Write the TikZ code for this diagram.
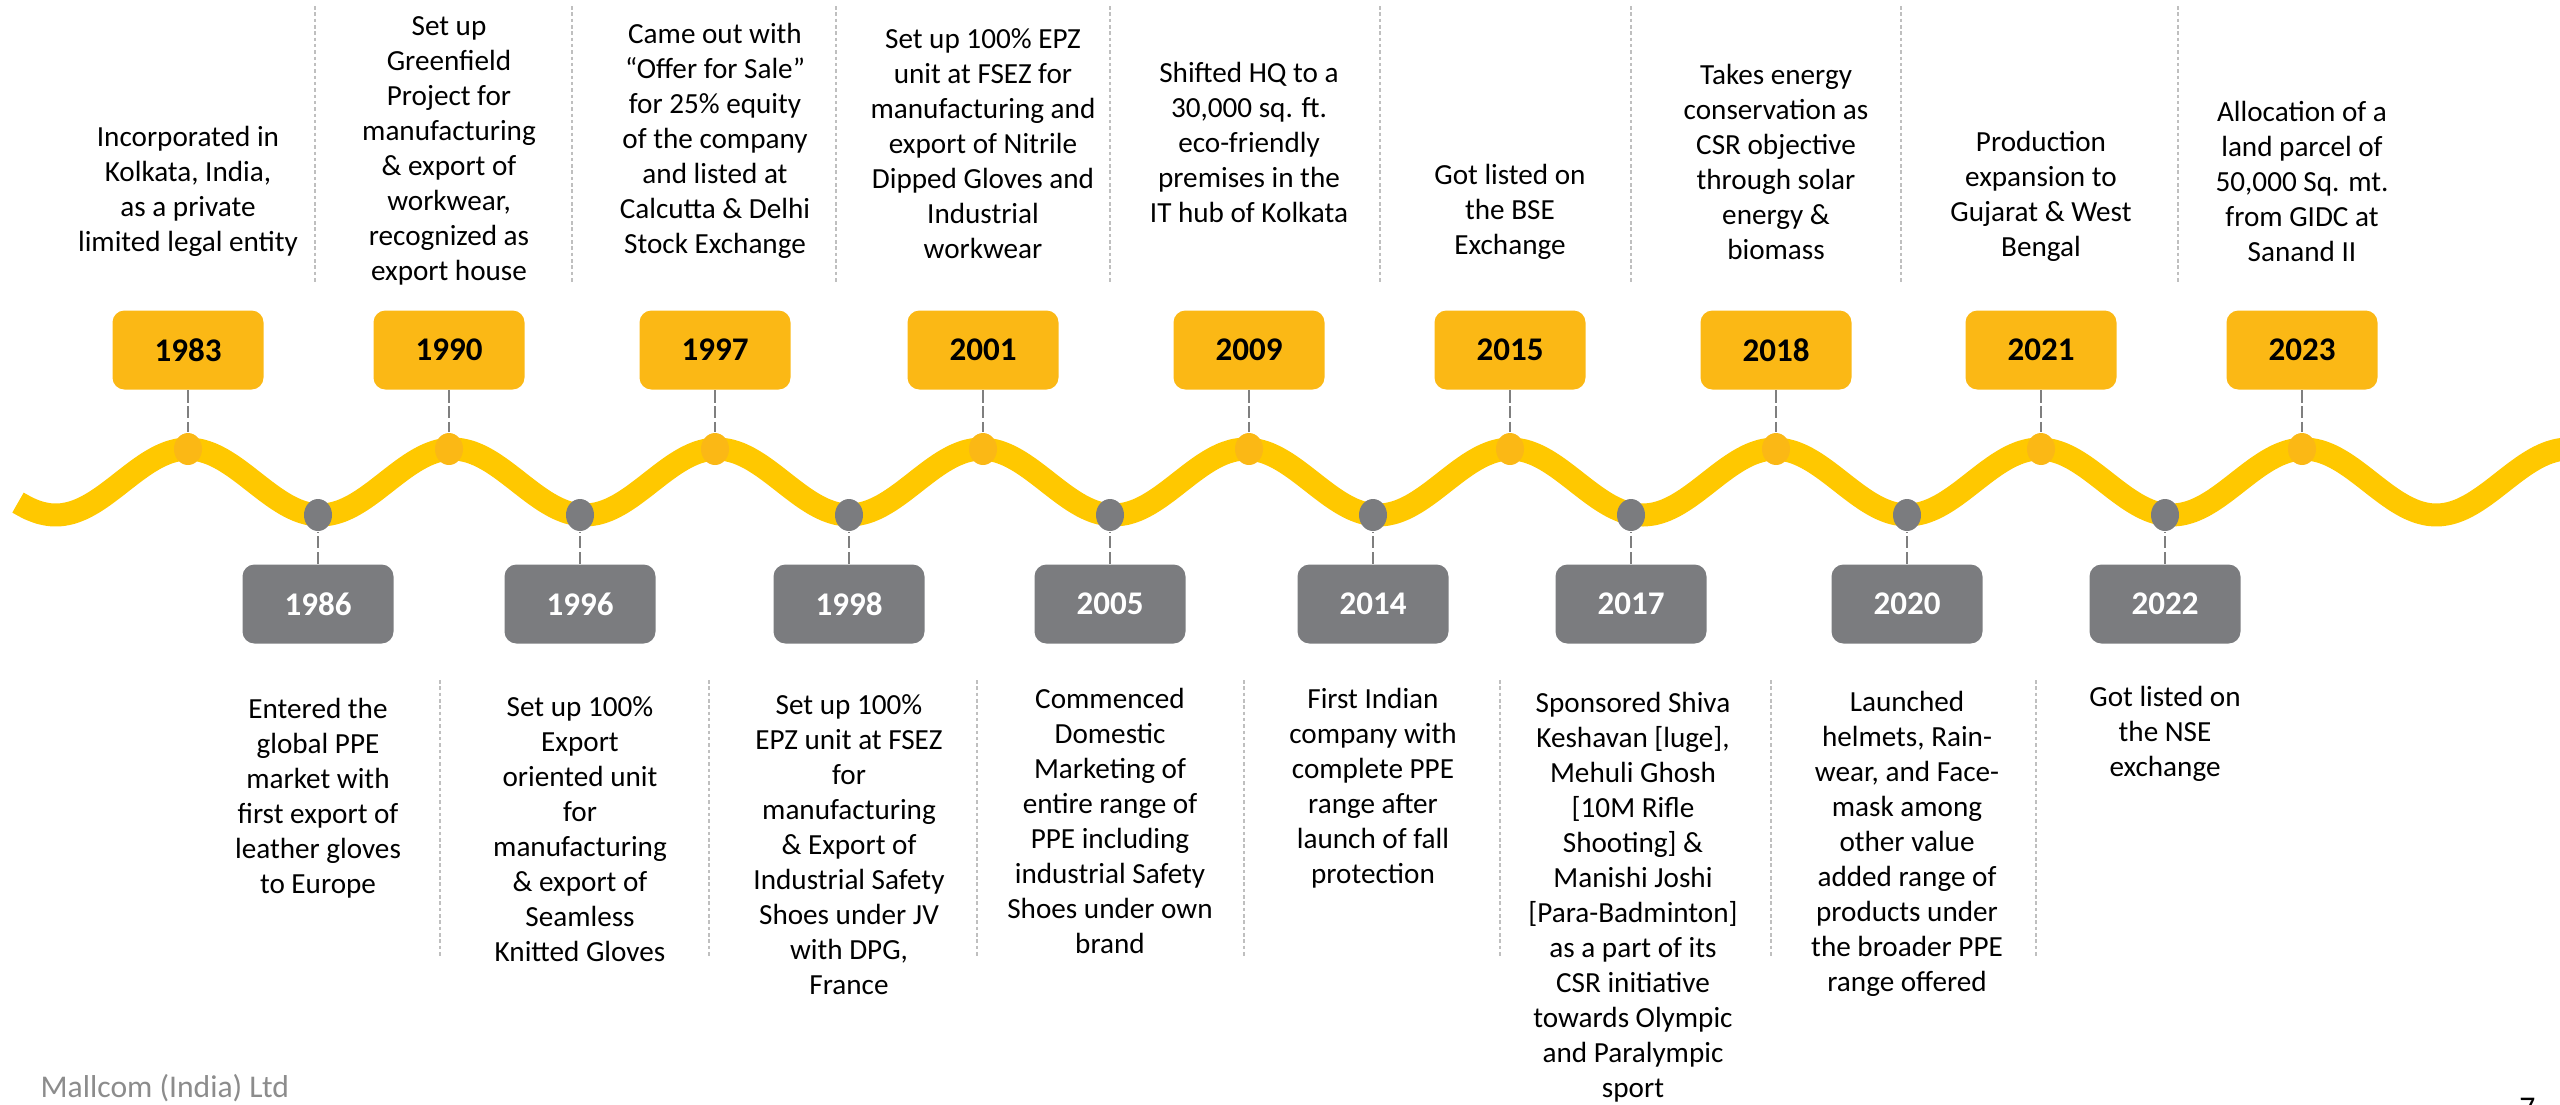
\documentclass[tikz,border=0pt]{standalone}
\usepackage{fontspec}
\setmainfont{Carlito}
\usetikzlibrary{shapes.geometric}

\definecolor{gold}{RGB}{251,184,21}
\definecolor{bandyellow}{RGB}{255,200,0}
\definecolor{slate}{RGB}{123,124,127}
\definecolor{linkgray}{RGB}{127,127,127}
\definecolor{divgray}{RGB}{191,191,191}
\definecolor{footgray}{RGB}{140,140,140}

\tikzset{
  yearup/.style={rectangle, rounded corners=3.4pt, fill=gold, minimum width=15.1mm, minimum height=7.9mm, inner sep=0pt, font=\fontsize{9.4}{10}\selectfont\bfseries},
  yeardown/.style={yearup, fill=slate, text=white},
  story/.style={align=center, inner sep=0pt, font=\fontsize{8.3}{9.96}\selectfont},
  knobup/.style={ellipse, fill=gold, minimum width=2.8mm, minimum height=3.2mm, inner sep=0pt},
  knobdown/.style={knobup, fill=slate},
  link/.style={draw=linkgray, line width=0.75pt, dash pattern=on 3.5pt off 1pt},
  divider/.style={draw=divgray, line width=0.35pt, dash pattern=on 1pt off 0.8pt}
}

\begin{document}
\begin{tikzpicture}[x=0.1mm, y=-0.1mm]
  \useasboundingbox (0,0) rectangle (2560,1104);
  \clip (0,0) rectangle (2560,1104);

  % separators
  \foreach \x in {315,572,836,1110,1380,1631,1901,2178}
    \draw[divider] (\x,6) -- (\x,284);
  \foreach \x in {440,709,977,1244,1500,1771,2036}
    \draw[divider] (\x,680) -- (\x,958);

  % wave (period 264.5)
  \draw[bandyellow, line width=2.3mm, domain=18:2590, samples=240, smooth, variable=\x] plot ({\x},{482-33*cos(1.36106*(\x-188))});

  % years above the wave
  \foreach \yr/\x in {1983/188,1990/449,1997/715,2001/983,2009/1249,2015/1510,2018/1776,2021/2041,2023/2302} {
    \node[knobup] (k\yr) at (\x,449) {};
    \node[yearup] (y\yr) at (\x,350) {\yr};
  }

  % years below the wave
  \foreach \yr/\x in {1986/318,1996/580,1998/849,2005/1110,2014/1373,2017/1631,2020/1907,2022/2165} {
    \node[knobdown] (k\yr) at (\x,515) {};
    \node[yeardown] (y\yr) at (\x,604) {\yr};
  }

  \foreach \yr in {1983,1990,1997,2001,2009,2015,2018,2021,2023,1986,1996,1998,2005,2014,2017,2020,2022}
    \draw[link] (y\yr) -- (k\yr);

  % texts above
  \node[story] (t1983) at (188,191) {Incorporated in\\Kolkata, India,\\as a private\\limited legal entity};
  \node[story] (t1990) at (449,151) {Set up\\Greenfield\\Project for\\manufacturing\\\& export of\\workwear,\\recognized as\\export house};
  \node[story] (t1997) at (715,141) {Came out with\\“Offer for Sale”\\for 25\% equity\\of the company\\and listed at\\Calcutta \& Delhi\\Stock Exchange};
  \node[story] (t2001) at (983,144) {Set up 100\% EPZ\\unit at FSEZ for\\manufacturing and\\export of Nitrile\\Dipped Gloves and\\Industrial\\workwear};
  \node[story] (t2009) at (1249,142) {Shifted HQ to a\\30,000 sq. ft.\\eco-friendly\\premises in the\\IT hub of Kolkata};
  \node[story] (t2015) at (1510,212) {Got listed on\\the BSE\\Exchange};
  \node[story] (t2018) at (1776,162) {Takes energy\\conservation as\\CSR objective\\through solar\\energy \&\\biomass};
  \node[story] (t2021) at (2041,196) {Production\\expansion to\\Gujarat \& West\\Bengal};
  \node[story] (t2023) at (2302,181) {Allocation of a\\land parcel of\\50,000 Sq. mt.\\from GIDC at\\Sanand II};

  % texts below
  \node[story] (t1986) at (318,798) {Entered the\\global PPE\\market with\\first export of\\leather gloves\\to Europe};
  \node[story] (t1996) at (580,829) {Set up 100\%\\Export\\oriented unit\\for\\manufacturing\\\& export of\\Seamless\\Knitted Gloves};
  \node[story] (t1998) at (849,845) {Set up 100\%\\EPZ unit at FSEZ\\for\\manufacturing\\\& Export of\\Industrial Safety\\Shoes under JV\\with DPG,\\France};
  \node[story] (t2005) at (1110,821) {Commenced\\Domestic\\Marketing of\\entire range of\\PPE including\\industrial Safety\\Shoes under own\\brand};
  \node[story] (t2014) at (1373,788) {First Indian\\company with\\complete PPE\\range after\\launch of fall\\protection};
  \node[story] (t2017) at (1633,897) {Sponsored Shiva\\Keshavan [luge],\\Mehuli Ghosh\\{[}10M Rifle\\Shooting] \&\\Manishi Joshi\\{[}Para-Badminton]\\as a part of its\\CSR initiative\\towards Olympic\\and Paralympic\\sport};
  \node[story] (t2020) at (1907,844) {Launched\\helmets, Rain-\\wear, and Face-\\mask among\\other value\\added range of\\products under\\the broader PPE\\range offered};
  \node[story] (t2022) at (2165,734) {Got listed on\\the NSE\\exchange};

  % footer
  \node[anchor=base west, inner sep=0pt, text=footgray, font=\fontsize{9}{10}\selectfont] (foot) at (40,1097) {Mallcom (India) Ltd};
  \node[anchor=base east, inner sep=0pt, font=\fontsize{9}{10}\selectfont] (pageno) at (2536,1118) {7};
\end{tikzpicture}
\end{document}
